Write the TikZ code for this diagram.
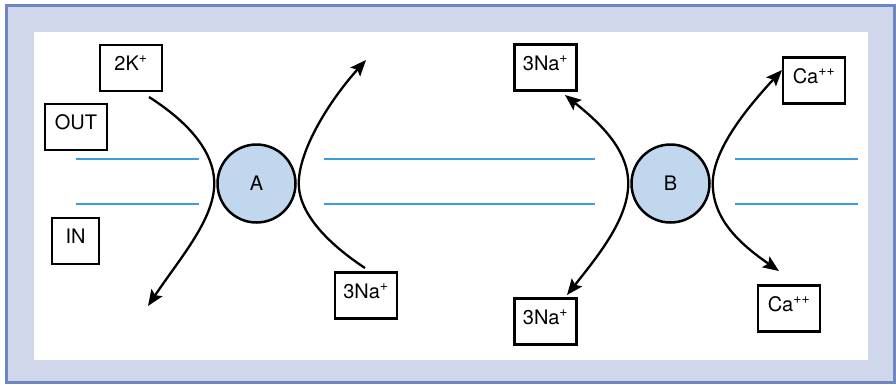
\documentclass[tikz,border=0pt]{standalone}
\usepackage{fontspec}
\setmainfont{TeX Gyre Heros}
\usetikzlibrary{arrows.meta}
\definecolor{framefill}{RGB}{209,215,235}
\definecolor{frameline}{RGB}{111,135,192}
\definecolor{membrane}{RGB}{58,157,220}
\definecolor{pumpfill}{RGB}{192,215,238}

\begin{document}
\begin{tikzpicture}[x=1pt,y=-1pt,>={Stealth[length=16pt,width=13pt,inset=3pt]},
  ion box/.style={draw,line width=2.5pt,minimum width=62pt,minimum height=46pt,inner sep=0pt,
    text height=14pt,text depth=9pt,font=\fontsize{20}{23}\selectfont},
  pump/.style={circle,draw,line width=2.5pt,fill=pumpfill,minimum size=78pt,inner sep=0pt,
    font=\fontsize{20}{23}\selectfont},
  flux/.style={line width=2.3pt},
  bilayer/.style={draw=membrane,line width=2.2pt}]

  \useasboundingbox (0,0) rectangle (896,384);
  \draw[line width=3pt,draw=frameline,fill=framefill] (6.5,5.5) rectangle (894.5,382.5);
  \fill[white] (34,32) rectangle (868,360);

  % membrane
  \foreach \y in {159,204} {
    \draw[bilayer] (76,\y) -- (199,\y);
    \draw[bilayer] (324,\y) -- (595,\y);
    \draw[bilayer] (735,\y) -- (858,\y);
  }

  \node[pump] (A) at (256.5,183.5) {A};
  \node[pump] (B) at (670.5,183.5) {B};

  \node[ion box] (k2) at (131,68) {2K\textsuperscript{+}};
  \node[ion box] (out) at (76,127) {OUT};
  \node[ion box,minimum width=47pt] (in) at (75.5,241) {IN};
  \node[ion box] (naA) at (366,295.5) {3Na\textsuperscript{+}};
  \node[ion box] (naB1) at (545.5,67.5) {3Na\textsuperscript{+}};
  \node[ion box] (naB2) at (545.5,321.5) {3Na\textsuperscript{+}};
  \node[ion box] (caB1) at (814,80.5) {Ca\textsuperscript{++}};
  \node[ion box] (caB2) at (789,308.5) {Ca\textsuperscript{++}};

  \coordinate (kout) at (149,97);
  \coordinate (kin) at (148,306);
  \coordinate (nain) at (365,268);
  \coordinate (naout) at (366,60);
  \coordinate (nab1) at (565,95);
  \coordinate (nab2) at (567,295);
  \coordinate (cab1) at (782,70);
  \coordinate (cab2) at (779,271);

  \draw[flux,->] (kout) .. controls +(36,23) and +(0,-34) .. ([xshift=-2pt]A.west)
    .. controls +(0,36) and +(32,-48) .. (kin);
  \draw[flux,->] (nain) .. controls +(-35,-23) and +(0,31) .. ([xshift=2pt]A.east)
    .. controls +(0,-34) and +(-36,40) .. (naout);
  \draw[flux,<->] (nab1) .. controls +(35,28) and +(0,-34) .. ([xshift=-2pt]B.west)
    .. controls +(0,36) and +(30,-38) .. (nab2);
  \draw[flux,<->] (cab1) .. controls +(-35,38) and +(0,-34) .. ([xshift=2pt]B.east)
    .. controls +(0,36) and +(-39,-27) .. (cab2);

\end{tikzpicture}
\end{document}
